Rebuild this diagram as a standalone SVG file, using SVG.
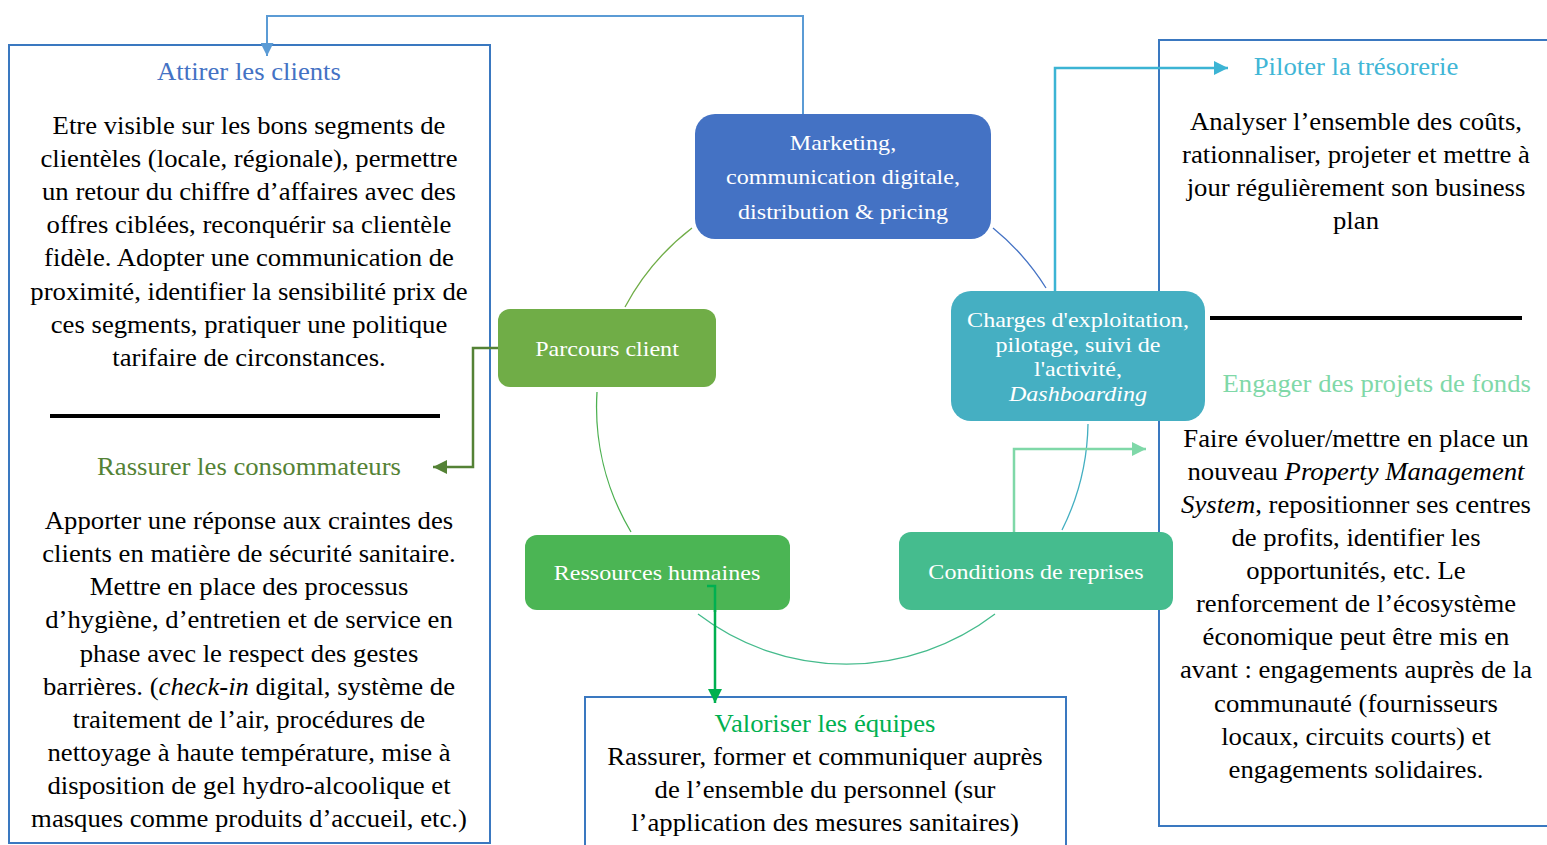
<svg xmlns="http://www.w3.org/2000/svg" width="1547" height="845" viewBox="0 0 1547 845">
<defs>
<style>
text{font-family:"Liberation Serif","Times New Roman",serif;}
.body{font-size:24.5px;fill:#000;text-anchor:middle;}
.head{font-size:24.5px;text-anchor:middle;}
.node{font-size:22px;fill:#fff;text-anchor:middle;}
.frame{fill:none;stroke:#3a78c0;stroke-width:2;}
.sep{stroke:#000;stroke-width:4;}
.arc{fill:none;stroke-width:1.3;}
.conn{fill:none;}
</style>
<marker id="aBlue" viewBox="0 0 10 10" refX="10" refY="5" markerUnits="userSpaceOnUse" markerWidth="13" markerHeight="13" orient="auto"><path d="M0,0L10,5L0,10z" fill="#5b9bd5"/></marker>
<marker id="aTeal" viewBox="0 0 10 10" refX="10" refY="5" markerUnits="userSpaceOnUse" markerWidth="14" markerHeight="14" orient="auto"><path d="M0,0L10,5L0,10z" fill="#3cb4d4"/></marker>
<marker id="aDark" viewBox="0 0 10 10" refX="10" refY="5" markerUnits="userSpaceOnUse" markerWidth="14" markerHeight="14" orient="auto"><path d="M0,0L10,5L0,10z" fill="#548235"/></marker>
<marker id="aGreen" viewBox="0 0 10 10" refX="10" refY="5" markerUnits="userSpaceOnUse" markerWidth="14" markerHeight="14" orient="auto"><path d="M0,0L10,5L0,10z" fill="#00b050"/></marker>
<marker id="aMint" viewBox="0 0 10 10" refX="10" refY="5" markerUnits="userSpaceOnUse" markerWidth="14" markerHeight="14" orient="auto"><path d="M0,0L10,5L0,10z" fill="#7fd8a8"/></marker>
</defs>
<rect width="1547" height="845" fill="#fff"/>

<g id="panel-left">
<rect class="frame" x="9" y="45" width="481" height="798"/>
<line class="sep" x1="50" y1="416" x2="440" y2="416"/>
<g transform="translate(249 0) scale(1.09 1)">
<text class="head" x="0" y="80" fill="#4472c4">Attirer les clients</text>
<text class="body" x="0" y="134">Etre visible sur les bons segments de</text>
<text class="body" x="0" y="167">clientèles (locale, régionale), permettre</text>
<text class="body" x="0" y="200">un retour du chiffre d’affaires avec des</text>
<text class="body" x="0" y="233">offres ciblées, reconquérir sa clientèle</text>
<text class="body" x="0" y="266">fidèle. Adopter une communication de</text>
<text class="body" x="0" y="300">proximité, identifier la sensibilité prix de</text>
<text class="body" x="0" y="333">ces segments, pratiquer une politique</text>
<text class="body" x="0" y="366">tarifaire de circonstances.</text>
<text class="head" x="0" y="475" fill="#548235">Rassurer les consommateurs</text>
<text class="body" x="0" y="529">Apporter une réponse aux craintes des</text>
<text class="body" x="0" y="562">clients en matière de sécurité sanitaire.</text>
<text class="body" x="0" y="595">Mettre en place des processus</text>
<text class="body" x="0" y="628">d’hygiène, d’entretien et de service en</text>
<text class="body" x="0" y="662">phase avec le respect des gestes</text>
<text class="body" x="0" y="695">barrières. (<tspan font-style="italic">check-in</tspan> digital, système de</text>
<text class="body" x="0" y="728">traitement de l’air, procédures de</text>
<text class="body" x="0" y="761">nettoyage à haute température, mise à</text>
<text class="body" x="0" y="794">disposition de gel hydro-alcoolique et</text>
<text class="body" x="0" y="827">masques comme produits d’accueil, etc.)</text>
</g>
</g>

<g id="panel-right">
<path class="frame" d="M1549,40H1159V826H1549"/>
<line class="sep" x1="1210" y1="318" x2="1522" y2="318"/>
<g transform="translate(1356 0) scale(1.09 1)">
<text class="head" x="0" y="75" fill="#41b6d6">Piloter la trésorerie</text>
<text class="body" x="0" y="130">Analyser l’ensemble des coûts,</text>
<text class="body" x="0" y="163">rationnaliser, projeter et mettre à</text>
<text class="body" x="0" y="196">jour régulièrement son business</text>
<text class="body" x="0" y="229">plan</text>
<text class="head" x="19" y="392" fill="#7fd8a8">Engager des projets de fonds</text>
<text class="body" x="0" y="447">Faire évoluer/mettre en place un</text>
<text class="body" x="0" y="480">nouveau <tspan font-style="italic">Property Management</tspan></text>
<text class="body" x="0" y="513"><tspan font-style="italic">System</tspan>, repositionner ses centres</text>
<text class="body" x="0" y="546">de profits, identifier les</text>
<text class="body" x="0" y="579">opportunités, etc. Le</text>
<text class="body" x="0" y="612">renforcement de l’écosystème</text>
<text class="body" x="0" y="645">économique peut être mis en</text>
<text class="body" x="0" y="678">avant : engagements auprès de la</text>
<text class="body" x="0" y="712">communauté (fournisseurs</text>
<text class="body" x="0" y="745">locaux, circuits courts) et</text>
<text class="body" x="0" y="778">engagements solidaires.</text>
</g>
</g>

<g id="panel-bottom">
<path class="frame" d="M585,847V697H1066V847"/>
<g transform="translate(825 0) scale(1.09 1)">
<text class="head" x="0" y="732" fill="#00b050">Valoriser les équipes</text>
<text class="body" x="0" y="765">Rassurer, former et communiquer auprès</text>
<text class="body" x="0" y="798">de l’ensemble du personnel (sur</text>
<text class="body" x="0" y="831">l’application des mesures sanitaires)</text>
</g>
</g>

<g id="cycle-arcs">
<path class="arc" stroke="#70ad47" d="M625,307A245,245 0 0 1 692,228"/>
<path class="arc" stroke="#4472c4" d="M993,228A245,245 0 0 1 1046,288"/>
<path class="arc" stroke="#43afc1" d="M1088,424A245,245 0 0 1 1062,530"/>
<path class="arc" stroke="#45bb8c" d="M995,614A245,245 0 0 1 698,614"/>
<path class="arc" stroke="#4cb050" d="M631,532A245,245 0 0 1 597,392"/>
</g>

<g id="connectors">
<path class="conn" stroke="#5b9bd5" stroke-width="2" d="M803,114V16H267V56" marker-end="url(#aBlue)"/>
<path class="conn" stroke="#3cb4d4" stroke-width="2.5" d="M1055,291V68H1228" marker-end="url(#aTeal)"/>
<path class="conn" stroke="#548235" stroke-width="2.5" d="M498,348H473V467H433" marker-end="url(#aDark)"/>
<path class="conn" stroke="#00b050" stroke-width="2.5" d="M707,586H715V703" marker-end="url(#aGreen)"/>
<path class="conn" stroke="#7fd8a8" stroke-width="2.5" d="M1014,532V449H1146" marker-end="url(#aMint)"/>
</g>

<g id="node-marketing">
<rect x="695" y="114" width="296" height="125" rx="20" fill="#4472c4"/>
<g transform="translate(843 0) scale(1.095 1)">
<text class="node" x="0" y="150">Marketing,</text>
<text class="node" x="0" y="184">communication digitale,</text>
<text class="node" x="0" y="219">distribution &amp; pricing</text>
</g>
</g>

<g id="node-parcours">
<rect x="498" y="309" width="218" height="78" rx="12" fill="#70ad47"/>
<text class="node" x="0" y="356" transform="translate(607 0) scale(1.095 1)">Parcours client</text>
</g>

<g id="node-charges">
<rect x="951" y="291" width="254" height="130" rx="20" fill="#45afc2"/>
<g transform="translate(1078 0) scale(1.095 1)">
<text class="node" x="0" y="327">Charges d'exploitation,</text>
<text class="node" x="0" y="352">pilotage, suivi de</text>
<text class="node" x="0" y="376">l'activité,</text>
<text class="node" x="0" y="401" font-style="italic">Dashboarding</text>
</g>
</g>

<g id="node-rh">
<rect x="525" y="535" width="265" height="75" rx="12" fill="#4bb554"/>
<text class="node" x="0" y="580" transform="translate(657 0) scale(1.095 1)">Ressources humaines</text>
</g>

<g id="node-conditions">
<rect x="899" y="532" width="274" height="78" rx="12" fill="#45bc8e"/>
<text class="node" x="0" y="579" transform="translate(1036 0) scale(1.095 1)">Conditions de reprises</text>
</g>

<path class="conn" stroke="#00b050" stroke-width="2.5" d="M707,586H715V612"/>
</svg>
